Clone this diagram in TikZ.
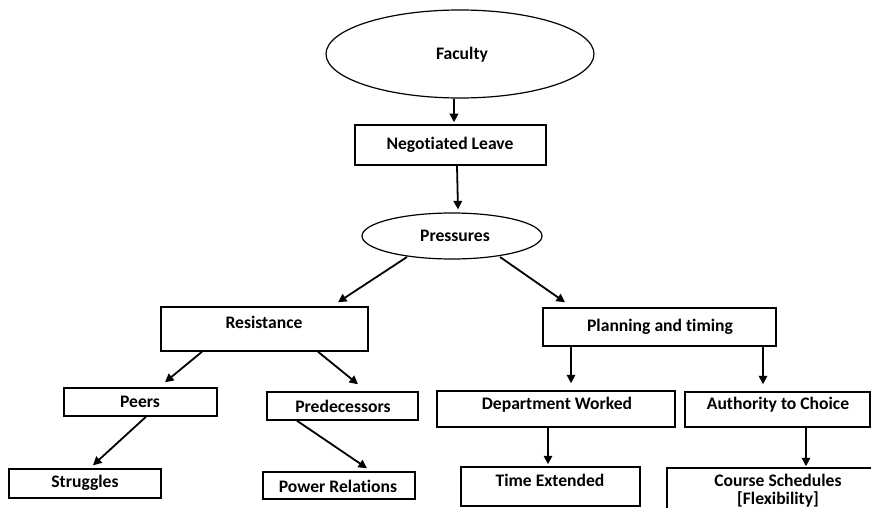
\documentclass[tikz,border=0pt]{standalone}
\usepackage{fontspec}
\setmainfont{Carlito}[Ligatures=NoCommon]
\usetikzlibrary{shapes.geometric,arrows.meta}
\tikzset{
  box/.style={draw, line width=1.5pt, rectangle, inner sep=0pt},
  oval/.style={draw, line width=1.2pt, ellipse, inner sep=0pt},
  lbl/.style={inner sep=0pt, font=\fontsize{17.6}{19}\selectfont\bfseries, align=center},
  arr/.style={line width=1.8pt, -{Triangle[length=8.5pt,width=8.5pt]}}
}
\begin{document}
\begin{tikzpicture}[x=1pt,y=-1pt]
\fill[white] (0,0) rectangle (871,508);
\useasboundingbox (0,0) rectangle (871,508);
\clip (0,0) rectangle (871,508);

% shapes
\node[oval, minimum width=268pt, minimum height=88pt] (faculty) at (460,54) {};
\node[box, minimum width=191pt, minimum height=40pt] (nl) at (450.5,145) {};
\node[oval, minimum width=180pt, minimum height=46pt] (press) at (452,236) {};
\node[box, minimum width=207pt, minimum height=44pt] (res) at (264.5,329) {};
\node[box, minimum width=233pt, minimum height=38pt] (plan) at (659.5,327) {};
\node[box, minimum width=153pt, minimum height=28pt] (peers) at (140.5,402) {};
\node[box, minimum width=151pt, minimum height=28pt] (pred) at (342.5,406) {};
\node[box, minimum width=238pt, minimum height=36pt] (dept) at (556,409) {};
\node[box, minimum width=185pt, minimum height=35pt] (auth) at (777.5,409.5) {};
\node[box, minimum width=152pt, minimum height=29pt] (strug) at (85,483.5) {};
\node[box, minimum width=152pt, minimum height=27pt] (power) at (339,485.5) {};
\node[box, minimum width=179pt, minimum height=39pt] (time) at (550.5,486.5) {};
\node[box, minimum width=222pt, minimum height=56pt] (course) at (778,496) {};

% labels
\node[lbl] (faculty-t) at (462,55) {Faculty};
\node[lbl] (nl-t) at (450,145) {Negotiated Leave};
\node[lbl] (press-t) at (455,236) {Pressures};
\node[lbl] (res-t) at (264,322) {Resistance};
\node[lbl] (plan-t) at (660,327) {Planning and timing};
\node[lbl] (peers-t) at (140,402) {Peers};
\node[lbl] (pred-t) at (343,406) {Predecessors};
\node[lbl] (dept-t) at (557,405) {Department Worked};
\node[lbl] (auth-t) at (778,405) {Authority to Choice};
\node[lbl] (strug-t) at (85,483) {Struggles};
\node[lbl] (power-t) at (338,486) {Power Relations};
\node[lbl] (time-t) at (550,480) {Time Extended};
\node[lbl, font=\fontsize{17.6}{18}\selectfont\bfseries] (course-t) at (778,490.5) {Course Schedules\\\relax[Flexibility]};

% connectors
\draw[arr] ([xshift=-6pt]faculty.south) -- ([xshift=3.5pt,yshift=2pt]nl.north);
\draw[arr] ([xshift=6.5pt]nl.south) -- ([xshift=6pt,yshift=3pt]press.north);
\draw[arr] ([xshift=-45pt,yshift=-21pt]press.center) -- ([xshift=73.5pt,yshift=4pt]res.north);
\draw[arr] ([xshift=48pt,yshift=-21pt]press.center) -- ([xshift=-94.5pt,yshift=5pt]plan.north);
\draw[arr] ([xshift=-62.5pt]res.south) -- ([xshift=24.5pt,yshift=5pt]peers.north);
\draw[arr] ([xshift=53.5pt]res.south) -- ([xshift=15.5pt,yshift=7pt]pred.north);
\draw[arr] ([xshift=5.5pt]peers.south) -- ([xshift=8pt,yshift=3pt]strug.north);
\draw[arr] ([xshift=-45.5pt]pred.south) -- ([xshift=28pt,yshift=3pt]power.north);
\draw[arr] ([xshift=-88.5pt]plan.south) -- ([xshift=15pt,yshift=7pt]dept.north);
\draw[arr] ([xshift=103.5pt]plan.south) -- ([xshift=-14.5pt,yshift=7pt]auth.north);
\draw[arr] ([xshift=-8pt]dept.south) -- ([xshift=-2.5pt,yshift=2pt]time.north);
\draw[arr] ([xshift=28.5pt]auth.south) -- ([xshift=28pt,yshift=1pt]course.north);
\end{tikzpicture}
\end{document}
